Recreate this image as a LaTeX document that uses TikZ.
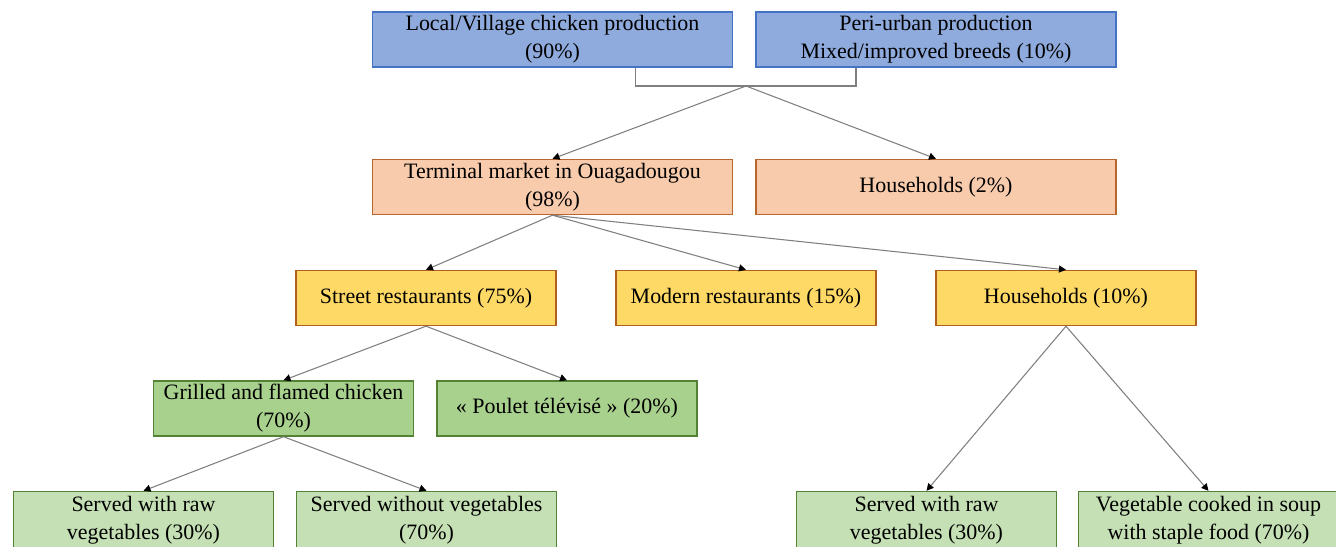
\documentclass[tikz,border=0pt]{standalone}
\usepackage{fontspec}
\setmainfont{Liberation Serif}
\newfontfamily\boxfont{Liberation Serif}
\usepackage{xcolor}
\usetikzlibrary{arrows.meta, backgrounds}

\definecolor{prodfill}{HTML}{8FAADC}
\definecolor{proddraw}{HTML}{4472C4}
\definecolor{mktfill}{HTML}{F8CBAD}
\definecolor{mktdraw}{HTML}{B8652E}
\definecolor{restfill}{HTML}{FFD966}
\definecolor{restdraw}{HTML}{B0601E}
\definecolor{dishfill}{HTML}{A9D18E}
\definecolor{servfill}{HTML}{C5E0B4}
\definecolor{greendraw}{HTML}{548235}
\definecolor{linkgray}{HTML}{7F7F7F}

\begin{document}
\begin{tikzpicture}[x=0.02cm,y=-0.02cm,
  box/.style={draw,shape=rectangle,line width=0.8pt,align=center,inner sep=0pt,minimum height=1.1cm,font=\boxfont\fontsize{12.5}{16}\selectfont},
  wide/.style={box,minimum width=7.2cm},
  narrow/.style={box,minimum width=5.2cm},
  prod/.style={wide,fill=prodfill,draw=proddraw},
  market/.style={wide,fill=mktfill,draw=mktdraw},
  rest/.style={narrow,fill=restfill,draw=restdraw},
  dish/.style={narrow,fill=dishfill,draw=greendraw},
  serve/.style={narrow,fill=servfill,draw=greendraw,minimum height=1.14cm},
  link/.style={draw=linkgray,line width=0.6pt},
  arrow/.style={link,-{Triangle[length=4pt,width=4pt,color=black]}},
  background rectangle/.style={fill=white},show background rectangle,inner frame sep=0pt]

\clip (0,0) rectangle (1336,547);

% Production
\node[prod] (local) at (552.5,39.5) {Local/Village chicken production\\(90\%)};
\node[prod] (periurban) at (936,39.5) {Peri-urban production\\Mixed/improved breeds (10\%)};

% Markets
\node[market] (terminal) at (552.5,187) {Terminal market in Ouagadougou\\(98\%)};
\node[market] (hhold2) at (936,187) {Households (2\%)};

% Consumers
\node[rest] (street) at (426,298) {Street restaurants (75\%)};
\node[rest] (modern) at (746,298) {Modern restaurants (15\%)};
\node[rest] (hhold10) at (1066,298) {Households (10\%)};

% Dishes
\node[dish] (grilled) at (283.5,408.5) {Grilled and flamed chicken\\(70\%)};
\node[dish] (poulet) at (567,408.5) {« Poulet télévisé » (20\%)};

% Ways of serving
\node[serve] (rawveg1) at (143.5,520) {Served with raw\\vegetables (30\%)};
\node[serve] (noveg) at (426.5,520) {Served without vegetables\\(70\%)};
\node[serve] (rawveg2) at (926.5,520) {Served with raw\\vegetables (30\%)};
\node[serve] (soup) at (1208.5,520) {Vegetable cooked in soup\\with staple food (70\%)};

% Links between the nodes
\coordinate (join) at (746,86);
\draw[link] ([xshift=1.66cm]local.south) |- (join) -| ([xshift=-1.6cm]periurban.south);
\draw[arrow] (join) -- (terminal.north);
\draw[arrow] (join) -- (hhold2.north);

\foreach \n in {street,modern,hhold10}
  \draw[arrow] (terminal.south) -- (\n.north);

\foreach \n in {grilled,poulet}
  \draw[arrow] (street.south) -- (\n.north);

\foreach \n in {rawveg1,noveg}
  \draw[arrow] (grilled.south) -- (\n.north);

\foreach \n in {rawveg2,soup}
  \draw[arrow] (hhold10.south) -- (\n.north);

\end{tikzpicture}
\end{document}
